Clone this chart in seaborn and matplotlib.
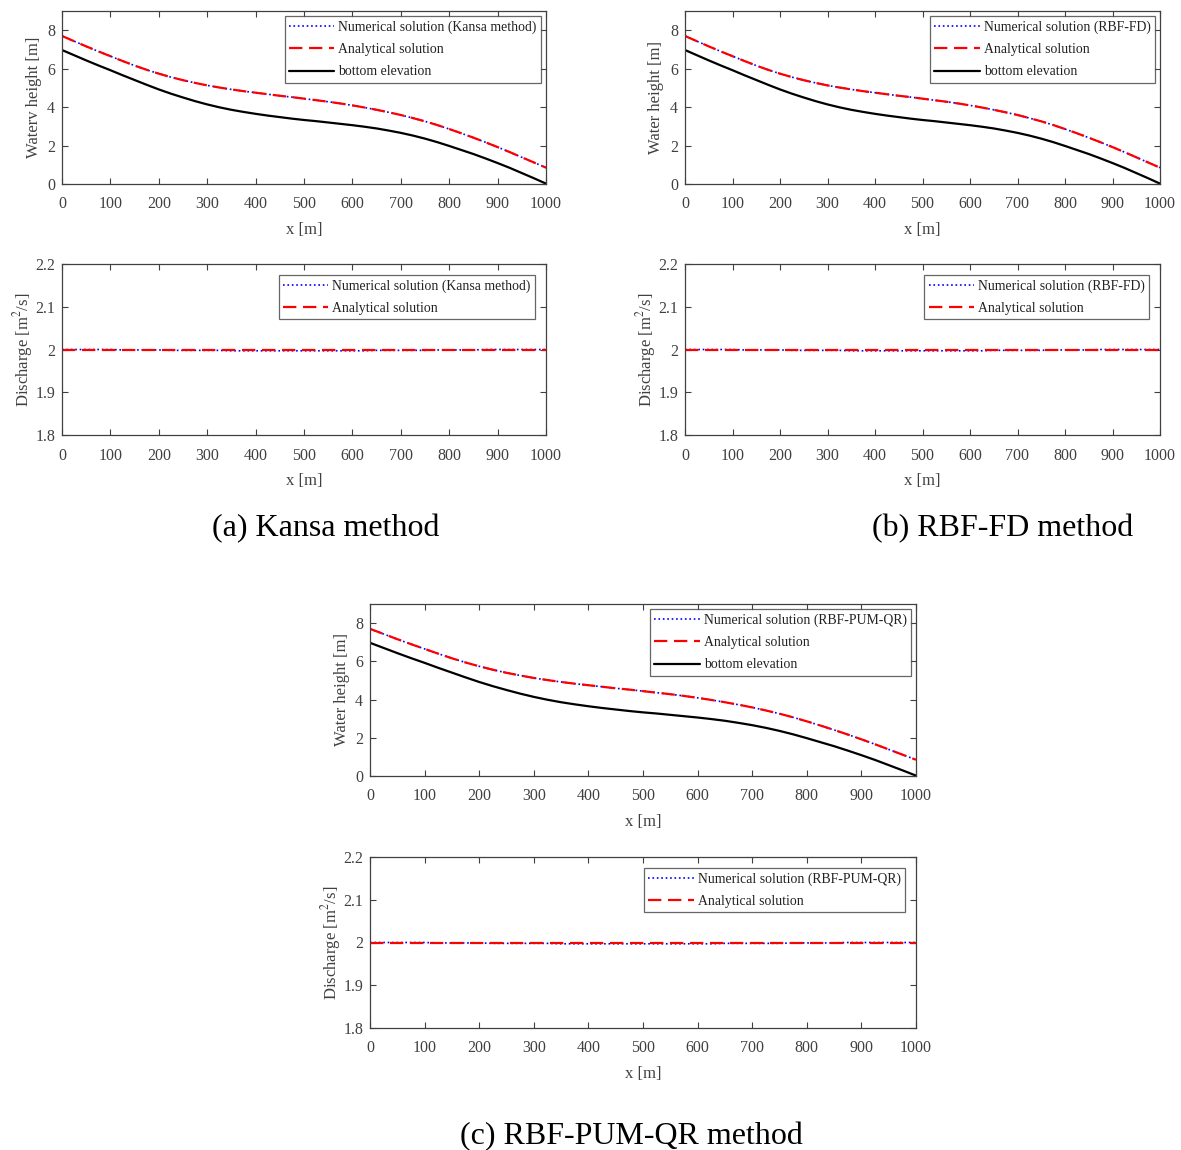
import numpy as np
import pandas as pd
import matplotlib
matplotlib.use("Agg")
import matplotlib.pyplot as plt
import seaborn as sns

# ---------------- data ----------------
x_pos = [0, 25, 50, 75, 100, 125, 150, 175, 200, 225, 250, 275, 300, 325, 350, 375,
         400, 425, 450, 475, 500, 525, 550, 575, 600, 625, 650, 675, 700, 725, 750,
         775, 800, 825, 850, 875, 900, 925, 950, 975, 1000]
bottom_elev = [6.97, 6.70, 6.43, 6.17, 5.92, 5.66, 5.41, 5.16, 4.92, 4.70, 4.50,
               4.31, 4.14, 3.99, 3.86, 3.75, 3.65, 3.56, 3.48, 3.40, 3.33, 3.27,
               3.20, 3.13, 3.06, 2.98, 2.89, 2.78, 2.66, 2.52, 2.36, 2.18, 1.98,
               1.77, 1.56, 1.33, 1.09, 0.84, 0.57, 0.30, 0.02]
water_analytical = [7.70, 7.43, 7.16, 6.90, 6.65, 6.40, 6.16, 5.94, 5.74, 5.56, 5.40,
                    5.26, 5.13, 5.02, 4.92, 4.83, 4.75, 4.67, 4.59, 4.52, 4.44, 4.36,
                    4.28, 4.19, 4.09, 3.98, 3.86, 3.73, 3.59, 3.43, 3.26, 3.07, 2.86,
                    2.64, 2.41, 2.17, 1.92, 1.66, 1.39, 1.12, 0.85]
water_numerical = [7.70, 7.43, 7.16, 6.90, 6.65, 6.40, 6.16, 5.94, 5.74, 5.56, 5.40,
                   5.26, 5.13, 5.02, 4.92, 4.83, 4.75, 4.67, 4.59, 4.52, 4.44, 4.36,
                   4.28, 4.19, 4.09, 3.98, 3.86, 3.73, 3.59, 3.43, 3.26, 3.07, 2.86,
                   2.64, 2.41, 2.17, 1.92, 1.66, 1.39, 1.12, 0.85]
q_analytical = [2.0] * 41
q_numerical = [2.000, 2.000, 2.000, 2.000, 2.000, 1.999, 1.999, 1.999, 1.999, 1.998,
               1.998, 1.998, 1.998, 1.998, 1.997, 1.997, 1.997, 1.997, 1.997, 1.997,
               1.997, 1.997, 1.997, 1.997, 1.997, 1.997, 1.998, 1.998, 1.998, 1.998,
               1.998, 1.999, 1.999, 1.999, 1.999, 2.000, 2.000, 2.000, 2.000, 2.000,
               2.000]

methods = ["Kansa method", "RBF-FD", "RBF-PUM-QR"]
height_labels = ["Waterv height [m]", "Water height [m]", "Water height [m]"]
captions = ["(a) Kansa method", "(b) RBF-FD method", "(c) RBF-PUM-QR method"]
x_ticks = [0, 100, 200, 300, 400, 500, 600, 700, 800, 900, 1000]
h_ticks = [0, 2, 4, 6, 8]
q_ticks = [1.8, 1.9, 2.0, 2.1, 2.2]
q_ticklabels = ["1.8", "1.9", "2", "2.1", "2.2"]

# ---------------- style ----------------
sns.set_style("ticks")
plt.rcParams["font.family"] = ["Liberation Serif", "DejaVu Serif"]
plt.rcParams["mathtext.fontset"] = "stix"
GRAY = "#404040"
plt.rcParams.update({
    "axes.edgecolor": GRAY, "xtick.color": GRAY, "ytick.color": GRAY,
    "axes.labelcolor": GRAY, "text.color": "#222222", "axes.linewidth": 0.9,
})

fig = plt.figure(figsize=(11.81, 11.5), dpi=100)
W, H = 1181.0, 1150.0

def rect(l, r, t, b):
    return [l / W, 1 - b / H, (r - l) / W, (b - t) / H]

layout = [
    (rect(62, 546, 11, 184), rect(62, 546, 264, 435)),
    (rect(685, 1160, 11, 184), rect(685, 1160, 264, 435)),
    (rect(370, 916, 604, 776), rect(370, 916, 857, 1028)),
]
cap_pos = [(326, 529), (1003, 529), (631, 1137)]

df = pd.DataFrame({"x": x_pos, "bottom": bottom_elev, "wa": water_analytical,
                   "wn": water_numerical, "qa": q_analytical, "qn": q_numerical})

LEG_KW = dict(fontsize=9.9, frameon=True, fancybox=False, handlelength=3.3,
              labelspacing=0.68, handletextpad=0.3, borderpad=0.3)

def style_axes(ax):
    ax.tick_params(direction="in", top=True, right=True, labelsize=11.5,
                   length=4, width=0.8, pad=5)
    ax.tick_params(axis="x", pad=9)
    for s in ax.spines.values():
        s.set_visible(True)
        s.set_color(GRAY)
    ax.set_xlim(0, 1000)
    ax.set_xticks(x_ticks)
    ax.set_xlabel("x [m]", fontsize=12, labelpad=7)

def style_legend(leg):
    leg.get_frame().set_edgecolor(GRAY)
    leg.get_frame().set_linewidth(0.9)

for i, m in enumerate(methods):
    r1, r2 = layout[i]
    ax1 = fig.add_axes(r1)
    sns.lineplot(data=df, x="x", y="wn", ax=ax1, color="blue", linestyle=":",
                 linewidth=1.2, label=f"Numerical solution ({m})")
    sns.lineplot(data=df, x="x", y="wa", ax=ax1, color="red", dashes=(6, 3),
                 linewidth=1.6, label="Analytical solution")
    sns.lineplot(data=df, x="x", y="bottom", ax=ax1, color="black",
                 linewidth=1.6, label="bottom elevation")
    style_axes(ax1)
    ax1.set_ylim(0, 9)
    ax1.set_yticks(h_ticks)
    ax1.set_ylabel(height_labels[i], fontsize=12, labelpad=4)
    style_legend(ax1.legend(loc="upper right", borderaxespad=0.37, **LEG_KW))

    ax2 = fig.add_axes(r2)
    sns.lineplot(data=df, x="x", y="qn", ax=ax2, color="blue", linestyle=":",
                 linewidth=1.2, label=f"Numerical solution ({m})")
    sns.lineplot(data=df, x="x", y="qa", ax=ax2, color="red", dashes=(6, 3),
                 linewidth=1.6, label="Analytical solution")
    style_axes(ax2)
    ax2.set_ylim(1.8, 2.2)
    ax2.set_yticks(q_ticks)
    ax2.set_yticklabels(q_ticklabels)
    ax2.set_ylabel("Discharge [m$^2$/s]", fontsize=12, labelpad=0)
    style_legend(ax2.legend(loc="upper right", borderaxespad=0.8, **LEG_KW))

    cx, cy = cap_pos[i]
    fig.text(cx / W, 1 - cy / H, captions[i], ha="center", va="center",
             fontsize=23, color="black")

fig.savefig("out.png", dpi=100, facecolor="white")
